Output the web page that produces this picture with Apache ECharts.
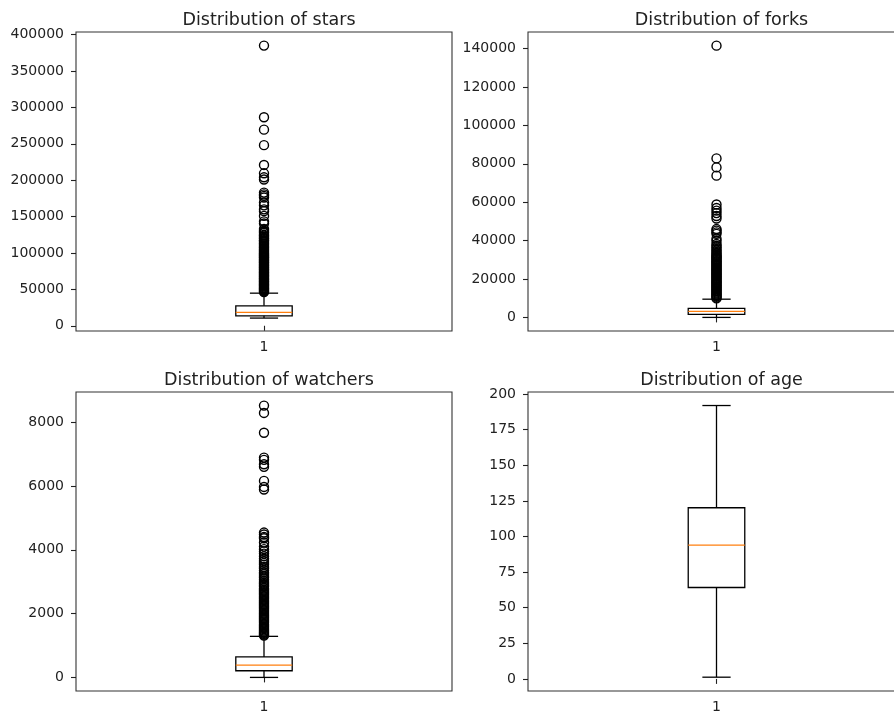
<!DOCTYPE html>
<html>
<head>
<meta charset="utf-8">
<script src="https://cdn.jsdelivr.net/npm/echarts@6/dist/echarts.min.js"></script>
<style>
  html, body { margin: 0; padding: 0; background: #fff; }
  #chart { width: 894px; height: 712px; }
</style>
</head>
<body>
<div id="chart"></div>
<script>
// Panel titles and the single x category
const titles = ['Distribution of stars', 'Distribution of forks', 'Distribution of watchers', 'Distribution of age'];
const categories = ['1'];

// Five-number summaries: [lower whisker, Q1, median, Q3, upper whisker]
const starsBox = [10560, 13700, 18400, 27400, 44800];
const forksBox = [0, 1560, 3110, 4670, 9490];
const watchersBox = [0, 208, 383, 643, 1287];
const ageBox = [1.2, 64.2, 94, 120.2, 192];

// Points beyond the whiskers
const starsOutliers = [385000, 286600, 269500, 248200, 221000, 209500, 204000, 201000, 183000, 180500,
  178500, 176200, 169500, 165500, 160000, 157500, 151000, 143500, 140500,
  133000, 130600, 128900, 127400, 125100, 123900, 122300, 120600, 119400, 117200, 116500, 114800,
  113100, 111900, 110200, 108700, 107500, 105800, 104600, 103100, 101700, 100400, 99100, 98300,
  97000, 95800, 94600, 93900, 92500, 91200, 90100, 88900, 87600, 86800, 85500, 84300, 83200,
  82000, 80900, 79700, 78600, 77400, 76500, 75100, 74000, 72800, 71900, 70600, 69500, 68300,
  67200, 66000, 65100, 63900, 62800, 61600, 60500, 59400, 58200, 57100, 56000, 54900, 53800,
  52700, 51600, 50500, 49400, 48300, 47200, 46300];
const forksOutliers = [141500, 82800, 78100, 73800, 58800, 57000, 55600, 54300, 52800, 51500,
  46000, 45200, 44300, 43500, 41000, 39800, 38200, 37300, 36500, 35600, 34800, 34100, 33300,
  32600, 32000, 31500, 31100, 30400, 29900, 29300, 28800, 28200, 27700, 27100, 26600, 26000,
  25500, 25000, 24400, 23900, 23300, 22800, 22200, 21700, 21200, 20600, 20100, 19500, 19000,
  18400, 17900, 17400, 16800, 16300, 15700, 15200, 14700, 14100, 13600, 13000, 12500, 11900,
  11400, 10900, 10300, 9900];
const watchersOutliers = [8520, 8290, 7670, 6890, 6820, 6680, 6600, 6160, 5970, 5890,
  4540, 4480, 4400, 4360, 4230, 4100, 4020, 3950, 3880, 3800, 3720, 3650, 3590, 3530, 3460,
  3410, 3350, 3290, 3240, 3180, 3130, 3080, 3020, 2970, 2930, 2880, 2840, 2790, 2750, 2710,
  2670, 2630, 2590, 2550, 2510, 2470, 2430, 2390, 2350, 2310, 2270, 2230, 2190, 2150, 2110,
  2070, 2030, 1990, 1950, 1910, 1870, 1830, 1790, 1750, 1710, 1670, 1630, 1590, 1550, 1510,
  1470, 1430, 1400, 1370, 1340, 1310];
const ageOutliers = [];

// Y tick values for each panel
const starsTicks = [0, 50000, 100000, 150000, 200000, 250000, 300000, 350000, 400000];
const forksTicks = [0, 20000, 40000, 60000, 80000, 100000, 120000, 140000];
const watchersTicks = [0, 2000, 4000, 6000, 8000];
const ageTicks = [0, 25, 50, 75, 100, 125, 150, 175, 200];

// Y axis extents (value range with 5% padding)
const starsRange = [-7200, 403700];
const forksRange = [-7075, 148600];
const watchersRange = [-426, 8946];
const ageRange = [-8.5, 201.5];

const panels = [
  { box: starsBox, out: starsOutliers, ticks: starsTicks, range: starsRange, left: 76, top: 32, width: 376 },
  { box: forksBox, out: forksOutliers, ticks: forksTicks, range: forksRange, left: 528, top: 32, width: 377 },
  { box: watchersBox, out: watchersOutliers, ticks: watchersTicks, range: watchersRange, left: 76, top: 392, width: 376 },
  { box: ageBox, out: ageOutliers, ticks: ageTicks, range: ageRange, left: 528, top: 392, width: 377 }
];
const PLOT_H = 299;
const FONT = 'DejaVu Sans';

// Matplotlib-style box: box is 15% of the band, caps half of the box width
function renderBox(params, api) {
  const lo = api.value(1), q1 = api.value(2), med = api.value(3), q3 = api.value(4), hi = api.value(5);
  const band = api.size([1, 0])[0];
  const cx = api.coord([0, med])[0];
  const hb = band * 0.075;
  const hc = hb / 2;
  const y = v => api.coord([0, v])[1];
  const stroke = { stroke: '#000', lineWidth: 1.3, fill: null };
  return {
    type: 'group',
    children: [
      { type: 'rect', shape: { x: cx - hb, y: y(q3), width: hb * 2, height: y(q1) - y(q3) }, style: stroke },
      { type: 'line', shape: { x1: cx, y1: y(q3), x2: cx, y2: y(hi) }, style: stroke },
      { type: 'line', shape: { x1: cx, y1: y(q1), x2: cx, y2: y(lo) }, style: stroke },
      { type: 'line', shape: { x1: cx - hc, y1: y(hi), x2: cx + hc, y2: y(hi) }, style: stroke },
      { type: 'line', shape: { x1: cx - hc, y1: y(lo), x2: cx + hc, y2: y(lo) }, style: stroke },
      { type: 'line', shape: { x1: cx - hb, y1: y(med), x2: cx + hb, y2: y(med) }, style: { stroke: '#ff7f0e', lineWidth: 1.3 } }
    ]
  };
}

const option = {
  animation: false,
  backgroundColor: '#fff',
  title: panels.map((p, i) => ({
    text: titles[i],
    left: p.left + p.width / 2,
    top: p.top - 26,
    textAlign: 'center',
    textStyle: { fontFamily: FONT, fontSize: 17.5, fontWeight: 'normal', color: '#222' }
  })),
  grid: panels.map(p => ({
    left: p.left, top: p.top, width: p.width, height: PLOT_H,
    outerBoundsMode: 'none', containLabel: false,
    show: true, borderColor: '#333', borderWidth: 1.1, backgroundColor: '#fff'
  })),
  xAxis: panels.map((p, i) => ({
    type: 'category', gridIndex: i, data: categories, boundaryGap: true,
    axisLine: { show: false },
    axisTick: { show: true, alignWithLabel: true, length: 5, lineStyle: { color: '#222', width: 1.1 } },
    axisLabel: { margin: 9, fontFamily: FONT, fontSize: 14, color: '#222' },
    splitLine: { show: false }
  })),
  yAxis: panels.map((p, i) => ({
    type: 'value', gridIndex: i, min: p.range[0], max: p.range[1],
    axisLine: { show: false },
    axisTick: { show: true, length: 5, customValues: p.ticks, lineStyle: { color: '#222', width: 1.1 } },
    axisLabel: {
      margin: 12, fontFamily: FONT, fontSize: 14, color: '#222', customValues: p.ticks,
      formatter: v => String(v)
    },
    splitLine: { show: false }
  })),
  series: panels.flatMap((p, i) => [
    {
      type: 'custom', xAxisIndex: i, yAxisIndex: i,
      renderItem: renderBox,
      data: [[0].concat(p.box)],
      z: 3
    },
    {
      type: 'scatter', xAxisIndex: i, yAxisIndex: i,
      symbol: 'circle', symbolSize: 9,
      itemStyle: { color: 'rgba(0,0,0,0)', borderColor: '#000', borderWidth: 1.4, opacity: 1 },
      data: p.out.map(v => [0, v]),
      z: 2
    }
  ])
};

const chart = echarts.init(document.getElementById('chart'), null, { renderer: 'canvas' });
chart.setOption(option);
</script>
</body>
</html>
